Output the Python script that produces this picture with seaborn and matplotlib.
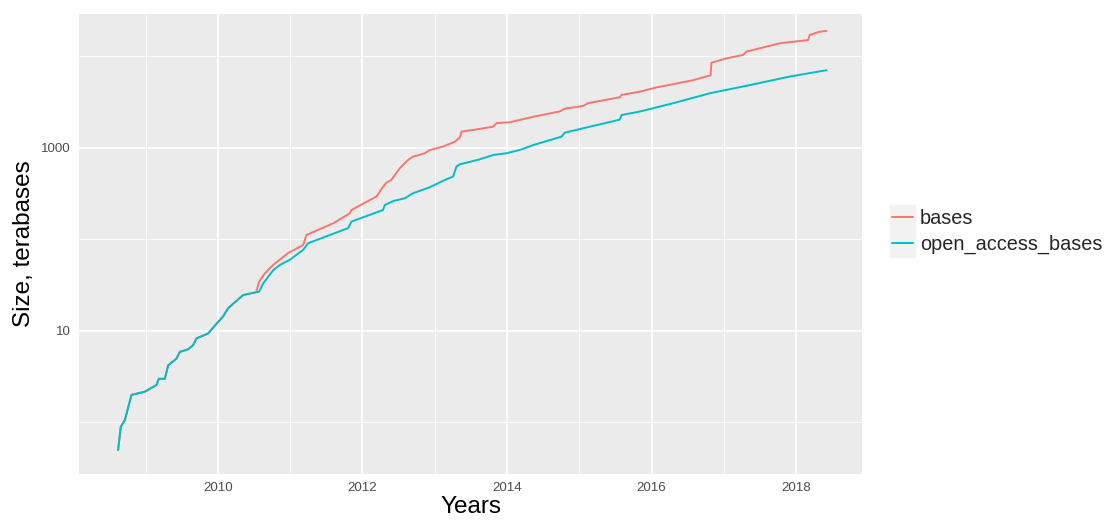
import pandas as pd
import seaborn as sns
import matplotlib.pyplot as plt
from matplotlib.patches import Rectangle
from matplotlib.ticker import NullFormatter

# Cumulative archive size (terabases); both series coincide until mid-2010
early_years = [2008.621, 2008.658, 2008.714, 2008.806, 2008.99, 2009.152, 2009.184,
               2009.267, 2009.313, 2009.429, 2009.474, 2009.589, 2009.658, 2009.705,
               2009.866, 2009.982, 2010.073, 2010.142, 2010.35]
early_size = [0.50, 0.90, 1.06, 2.0, 2.17, 2.57, 3.0,
              3.0, 4.2, 5.0, 5.9, 6.3, 7.0, 8.3,
              9.4, 12.0, 14.4, 17.7, 24.7]

bases_years = [2010.53, 2010.571, 2010.65, 2010.765, 2010.972, 2011.18, 2011.227,
               2011.595, 2011.826, 2011.849, 2012.195, 2012.286, 2012.333, 2012.40,
               2012.517, 2012.632, 2012.70, 2012.863, 2012.932, 2013.116, 2013.278,
               2013.347, 2013.371, 2013.53, 2013.81, 2013.856, 2014.039, 2014.362,
               2014.73, 2014.80, 2015.053, 2015.122, 2015.56, 2015.584, 2015.837,
               2016.068, 2016.574, 2016.782, 2016.815, 2016.828, 2017.036, 2017.265,
               2017.312, 2017.773, 2018.164, 2018.187, 2018.32, 2018.42]
bases_size = [26.5, 34.6, 42.6, 52.6, 71, 87, 112,
              150, 193, 210, 295, 377, 418, 447,
              600, 740, 804, 874, 950, 1035, 1170,
              1300, 1510, 1573, 1710, 1870, 1910, 2190,
              2510, 2690, 2880, 3090, 3580, 3800, 4120,
              4590, 5500, 6120, 6200, 8540, 9550, 10380,
              11300, 13940, 15100, 17200, 18600, 19000]

open_years = [2010.571, 2010.627, 2010.765, 2010.858, 2010.996, 2011.18, 2011.249,
              2011.802, 2011.849, 2012.286, 2012.31, 2012.425, 2012.586, 2012.70,
              2012.932, 2013.14, 2013.254, 2013.30, 2013.347, 2013.44, 2013.624,
              2013.81, 2013.99, 2014.177, 2014.362, 2014.754, 2014.80, 2015.053,
              2015.56, 2015.584, 2015.837, 2016.297, 2016.805, 2017.312, 2017.911,
              2018.42]
open_size = [26.9, 33, 46, 52.6, 60, 77, 91,
             133, 157, 210, 238, 263, 282, 320,
             372, 447, 487, 625, 663, 690, 752,
             838, 875, 950, 1075, 1330, 1470, 1640,
             2040, 2290, 2500, 3080, 3960, 4780, 6030,
             7080]

series = [
    ("bases", early_years + bases_years, early_size + bases_size),
    ("open_access_bases", early_years + open_years, early_size + open_size),
]
df = pd.concat(
    [pd.DataFrame({"year": y, "size": v, "variable": n}) for n, y, v in series],
    ignore_index=True,
)

sns.set_theme(style="darkgrid")
plt.rcParams["font.family"] = ["Liberation Sans", "DejaVu Sans"]

W, H = 1114, 520
fig = plt.figure(figsize=(W / 100, H / 100), dpi=100)
ax = fig.add_axes([79 / W, 46 / H, 783 / W, 460 / H])
ax.set_facecolor("#EBEBEB")

sns.lineplot(data=df, x="year", y="size", hue="variable",
             palette=["#F8766D", "#00BFC4"], lw=1.4, ax=ax,
             estimator=None, sort=False)

ax.set_yscale("log")
ax.set_xlim(2008.08, 2018.91)
ax.set_ylim(10 ** -0.563, 10 ** 4.464)

ax.set_xticks([2010, 2012, 2014, 2016, 2018])
ax.set_xticklabels(["2010", "2012", "2014", "2016", "2018"])
ax.set_xticks([2009, 2011, 2013, 2015, 2017], minor=True)
ax.set_yticks([10, 1000])
ax.set_yticklabels(["10", "1000"])
ax.set_yticks([1, 100, 10000], minor=True)
ax.yaxis.set_minor_formatter(NullFormatter())

ax.grid(which="major", color="white", lw=1.2)
ax.grid(which="minor", color="white", lw=0.6)
for s in ax.spines.values():
    s.set_visible(False)
ax.tick_params(which="major", length=3.5, width=0.9, color="#333333",
               labelsize=9.6, labelcolor="#4D4D4D", pad=2.5)
ax.tick_params(which="minor", length=0)

ax.set_xlabel("Years", fontsize=17.5, color="black", labelpad=1)
ax.set_ylabel("Size, terabases", fontsize=17.5, color="black", labelpad=4)

handles, labels = ax.get_legend_handles_labels()
ax.get_legend().remove()
for h in handles:
    h.set_linewidth(1.4)
fig.legend(handles, labels, loc="center left",
           bbox_to_anchor=(892 / W, 1 - 231.5 / H), frameon=False,
           fontsize=14.3, handlelength=1.05, handletextpad=0.35,
           labelspacing=0.34, borderpad=0, borderaxespad=0)

# grey key backgrounds behind the legend lines
for top in (205, 231.5):
    fig.add_artist(Rectangle((890 / W, 1 - (top + 25) / H), 25 / W, 25 / H,
                             transform=fig.transFigure, color="#F2F2F2", zorder=0))

fig.savefig("out.png", dpi=100)
